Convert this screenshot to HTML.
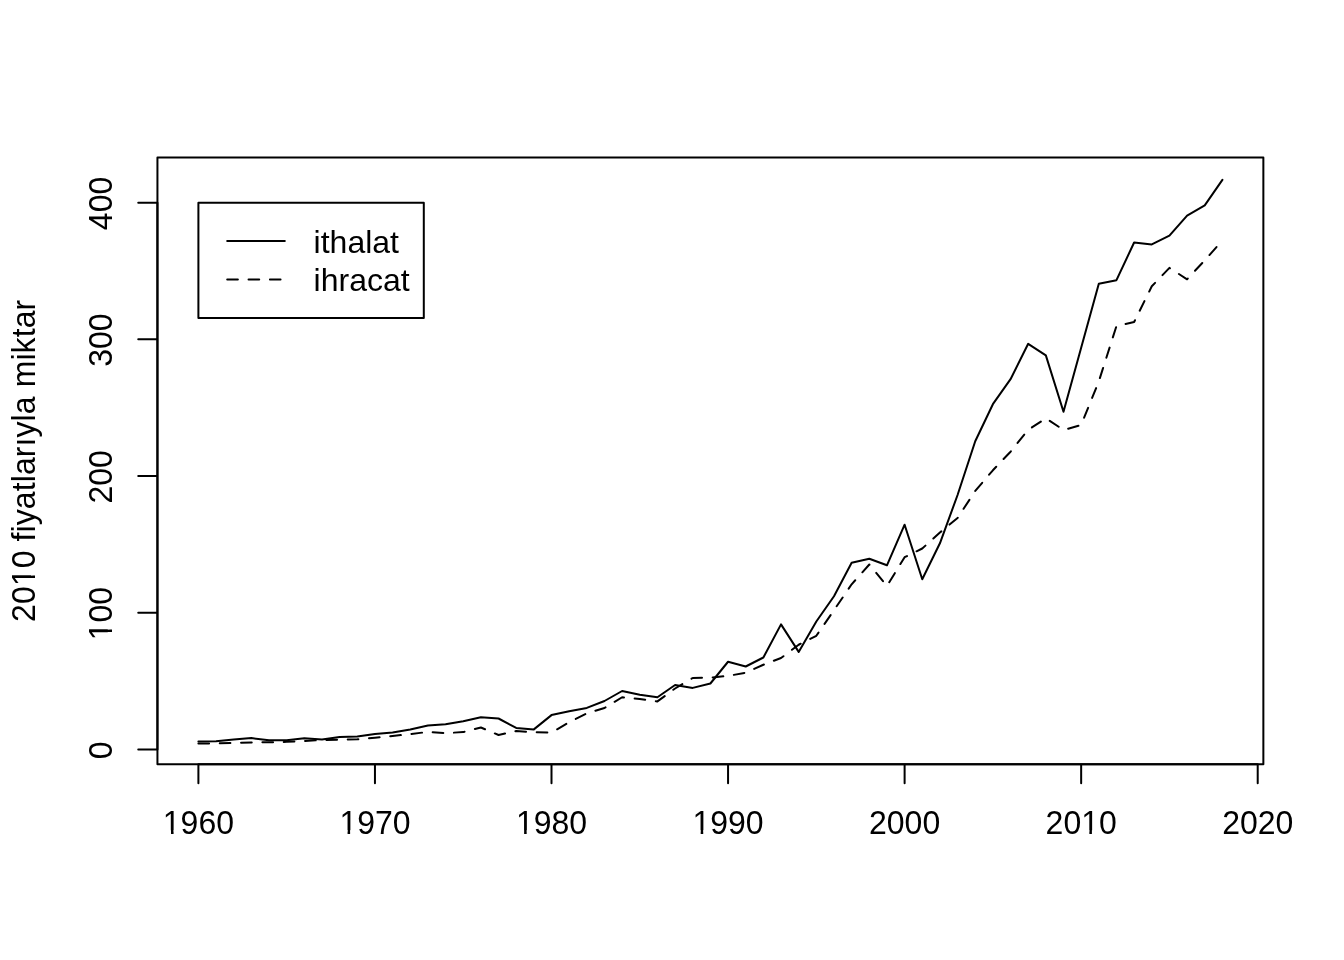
<!DOCTYPE html>
<html lang="tr"><head><meta charset="utf-8"><title>ithalat ihracat</title>
<style>html,body{margin:0;padding:0;background:#fff}body{width:1344px;height:960px;overflow:hidden}svg{display:block}text{font-family:"Liberation Sans",Arial,Helvetica,sans-serif;font-size:32px;fill:#000}</style></head><body>
<svg width="1344" height="960" viewBox="0 0 1344 960">
<rect width="1344" height="960" fill="#fff"/>
<defs><clipPath id="c1a"><path clip-rule="evenodd" d="M-400 -60H400V40H-400ZM-34.58 -3.7H-27.38V0.8H-34.58ZM-24.83 -3.7H-17.88V0.8H-24.83Z"/></clipPath><clipPath id="c1b"><path clip-rule="evenodd" d="M-400 -60H400V40H-400ZM0.99 -3.7H8.19V0.8H0.99ZM10.74 -3.7H17.69V0.8H10.74Z"/></clipPath><clipPath id="c1c"><path clip-rule="evenodd" d="M-400 -60H400V40H-400ZM-25.69 -3.7H-18.49V0.8H-25.69ZM-15.94 -3.7H-8.99V0.8H-15.94Z"/></clipPath><clipPath id="c1d"><path clip-rule="evenodd" d="M-400 -60H400V40H-400ZM-124.38 -3.7H-117.18V0.8H-124.38ZM-114.63 -3.7H-107.68V0.8H-114.63Z"/></clipPath></defs>
<g fill="none" stroke="#000" stroke-width="2" stroke-linecap="round" stroke-linejoin="round">
<polyline points="198.40,741.60 216.06,741.20 233.71,739.50 251.37,738.10 269.02,740.35 286.68,740.20 304.33,738.35 321.99,739.50 339.64,737.10 357.30,736.50 374.95,734.00 392.61,732.60 410.26,729.40 427.92,725.50 445.57,724.25 463.23,721.25 480.88,717.25 498.54,718.50 516.19,727.90 533.85,729.40 551.50,715.10 569.16,711.25 586.81,707.90 604.47,701.00 622.12,691.00 639.78,694.75 657.43,697.20 675.09,685.00 692.74,687.90 710.40,683.50 728.06,661.75 745.71,666.50 763.37,657.50 781.02,624.40 798.68,651.90 816.33,621.50 833.99,596.20 851.64,562.80 869.30,558.80 886.95,565.30 904.61,524.70 922.26,579.20 939.92,543.30 957.57,495.00 975.23,441.30 992.88,404.20 1010.54,379.20 1028.19,343.80 1045.85,355.40 1063.50,411.80 1081.16,347.70 1098.81,283.80 1116.47,280.20 1134.12,242.50 1151.78,244.40 1169.43,235.60 1187.09,215.60 1204.74,205.40 1222.40,179.90"/>
<polyline points="198.40,743.50 216.06,743.30 233.71,742.85 251.37,742.45 269.02,742.25 286.68,741.85 304.33,740.95 321.99,740.00 339.64,739.60 357.30,739.30 374.95,737.75 392.61,736.00 410.26,734.10 427.92,731.90 445.57,733.10 463.23,732.10 480.88,727.50 498.54,735.00 516.19,731.00 533.85,732.25 551.50,732.60 569.16,722.25 586.81,713.40 604.47,708.00 622.12,697.25 639.78,699.00 657.43,701.40 675.09,688.50 692.74,678.00 710.40,677.60 728.06,675.90 745.71,672.75 763.37,664.75 781.02,658.00 798.68,644.75 816.33,635.80 833.99,610.20 851.64,584.30 869.30,564.50 886.95,586.00 904.61,557.20 922.26,548.50 939.92,532.50 957.57,518.00 975.23,491.00 992.88,470.30 1010.54,451.70 1028.19,429.80 1045.85,418.30 1063.50,430.00 1081.16,425.00 1098.81,381.40 1116.47,326.00 1134.12,322.00 1151.78,286.30 1169.43,267.90 1187.09,279.30 1204.74,260.30 1222.40,240.40" stroke-dasharray="10.67 10.67"/>
<rect x="157.44" y="157.44" width="1105.92" height="606.72"/>
<path d="M198.40 764.16H1257.71M198.40 764.16v19.2M374.95 764.16v19.2M551.50 764.16v19.2M728.06 764.16v19.2M904.61 764.16v19.2M1081.16 764.16v19.2M1257.71 764.16v19.2"/>
<path d="M157.44 749.44V202.68M157.44 749.44h-19.2M157.44 612.75h-19.2M157.44 476.06h-19.2M157.44 339.37h-19.2M157.44 202.68h-19.2"/>
<rect x="198.4" y="202.68" width="225.4" height="115.2"/>
<path d="M227.2 241.08H284.8"/>
<path d="M227.2 279.48H284.8" stroke-dasharray="10.67 10.67"/>
</g>
<text transform="translate(198.40 834.0) scale(1 1.03)" text-anchor="middle" clip-path="url(#c1a)">1960</text>
<text transform="translate(374.95 834.0) scale(1 1.03)" text-anchor="middle" clip-path="url(#c1a)">1970</text>
<text transform="translate(551.50 834.0) scale(1 1.03)" text-anchor="middle" clip-path="url(#c1a)">1980</text>
<text transform="translate(728.06 834.0) scale(1 1.03)" text-anchor="middle" clip-path="url(#c1a)">1990</text>
<text transform="translate(904.61 834.0) scale(1 1.03)" text-anchor="middle">2000</text>
<text transform="translate(1081.16 834.0) scale(1 1.03)" text-anchor="middle" clip-path="url(#c1b)">2010</text>
<text transform="translate(1257.71 834.0) scale(1 1.03)" text-anchor="middle">2020</text>
<text transform="translate(111.6 750.24) rotate(-90) scale(1 1.05)" text-anchor="middle">0</text>
<text transform="translate(111.6 613.55) rotate(-90) scale(1 1.05)" text-anchor="middle" clip-path="url(#c1c)">100</text>
<text transform="translate(111.6 476.86) rotate(-90) scale(1 1.05)" text-anchor="middle">200</text>
<text transform="translate(111.6 340.17) rotate(-90) scale(1 1.05)" text-anchor="middle">300</text>
<text transform="translate(111.6 203.48) rotate(-90) scale(1 1.05)" text-anchor="middle">400</text>
<text transform="translate(34.8 460.8) rotate(-90) scale(1 1.025)" text-anchor="middle" letter-spacing="0.09" clip-path="url(#c1d)">2010 fiyatlarıyla miktar</text>
<text x="313.6" y="253.0">ithalat</text>
<text x="313.6" y="291.1">ihracat</text>
</svg></body></html>
